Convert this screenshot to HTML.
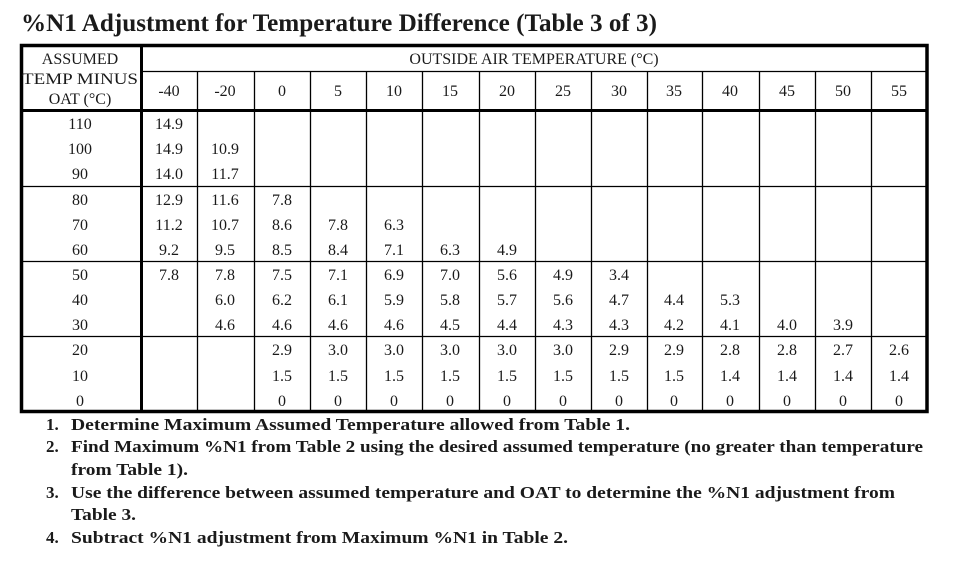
<!DOCTYPE html>
<html><head><meta charset="utf-8"><style>
html,body{margin:0;padding:0;background:#fff;}
svg{display:block;}
text{font-family:"Liberation Serif",serif;fill:#1a1a1a;}
.c{font-size:16px;text-anchor:middle;}
.b{font-weight:bold;font-size:17px;}
</style></head><body>
<svg width="955" height="572" viewBox="0 0 955 572" xmlns="http://www.w3.org/2000/svg">
<text x="21" y="31" textLength="636" lengthAdjust="spacingAndGlyphs" style="font-size:25px;font-weight:bold">%N1 Adjustment for Temperature Difference (Table 3 of 3)</text>
<g stroke="#000" fill="none">
<g stroke-width="1.3">
<line x1="141" y1="71.5" x2="927" y2="71.5"/>
<line x1="21" y1="186.5" x2="927" y2="186.5"/>
<line x1="21" y1="261.5" x2="927" y2="261.5"/>
<line x1="21" y1="336.5" x2="927" y2="336.5"/>
<line x1="197.5" y1="71" x2="197.5" y2="411"/>
<line x1="254.5" y1="71" x2="254.5" y2="411"/>
<line x1="310.5" y1="71" x2="310.5" y2="411"/>
<line x1="366.5" y1="71" x2="366.5" y2="411"/>
<line x1="422.5" y1="71" x2="422.5" y2="411"/>
<line x1="479.5" y1="71" x2="479.5" y2="411"/>
<line x1="535.5" y1="71" x2="535.5" y2="411"/>
<line x1="591.5" y1="71" x2="591.5" y2="411"/>
<line x1="647.5" y1="71" x2="647.5" y2="411"/>
<line x1="702.5" y1="71" x2="702.5" y2="411"/>
<line x1="759.5" y1="71" x2="759.5" y2="411"/>
<line x1="815.5" y1="71" x2="815.5" y2="411"/>
<line x1="871.5" y1="71" x2="871.5" y2="411"/>
</g>
<line x1="21" y1="110.5" x2="927" y2="110.5" stroke-width="3"/>
<line x1="141.5" y1="45" x2="141.5" y2="411" stroke-width="3"/>
<rect x="21.5" y="45.5" width="905.5" height="366" stroke-width="3.5"/>
</g>
<g class="c">
<text x="80" y="64">ASSUMED</text>
<text x="80" y="84" textLength="116" lengthAdjust="spacingAndGlyphs">TEMP MINUS</text>
<text x="80" y="104">OAT (°C)</text>
<text x="534" y="64">OUTSIDE AIR TEMPERATURE (°C)</text>
<text x="169" y="96">-40</text><text x="225" y="96">-20</text><text x="282" y="96">0</text><text x="338" y="96">5</text><text x="394" y="96">10</text><text x="450" y="96">15</text><text x="507" y="96">20</text><text x="563" y="96">25</text><text x="619" y="96">30</text><text x="674" y="96">35</text><text x="730" y="96">40</text><text x="787" y="96">45</text><text x="843" y="96">50</text><text x="899" y="96">55</text>

<text x="80" y="129">110</text><text x="169" y="129">14.9</text>
<text x="80" y="154">100</text><text x="169" y="154">14.9</text><text x="225" y="154">10.9</text>
<text x="80" y="179">90</text><text x="169" y="179">14.0</text><text x="225" y="179">11.7</text>

<text x="80" y="205">80</text><text x="169" y="205">12.9</text><text x="225" y="205">11.6</text><text x="282" y="205">7.8</text>
<text x="80" y="230">70</text><text x="169" y="230">11.2</text><text x="225" y="230">10.7</text><text x="282" y="230">8.6</text><text x="338" y="230">7.8</text><text x="394" y="230">6.3</text>
<text x="80" y="255">60</text><text x="169" y="255">9.2</text><text x="225" y="255">9.5</text><text x="282" y="255">8.5</text><text x="338" y="255">8.4</text><text x="394" y="255">7.1</text><text x="450" y="255">6.3</text><text x="507" y="255">4.9</text>

<text x="80" y="280">50</text><text x="169" y="280">7.8</text><text x="225" y="280">7.8</text><text x="282" y="280">7.5</text><text x="338" y="280">7.1</text><text x="394" y="280">6.9</text><text x="450" y="280">7.0</text><text x="507" y="280">5.6</text><text x="563" y="280">4.9</text><text x="619" y="280">3.4</text>
<text x="80" y="305">40</text><text x="225" y="305">6.0</text><text x="282" y="305">6.2</text><text x="338" y="305">6.1</text><text x="394" y="305">5.9</text><text x="450" y="305">5.8</text><text x="507" y="305">5.7</text><text x="563" y="305">5.6</text><text x="619" y="305">4.7</text><text x="674" y="305">4.4</text><text x="730" y="305">5.3</text>
<text x="80" y="330">30</text><text x="225" y="330">4.6</text><text x="282" y="330">4.6</text><text x="338" y="330">4.6</text><text x="394" y="330">4.6</text><text x="450" y="330">4.5</text><text x="507" y="330">4.4</text><text x="563" y="330">4.3</text><text x="619" y="330">4.3</text><text x="674" y="330">4.2</text><text x="730" y="330">4.1</text><text x="787" y="330">4.0</text><text x="843" y="330">3.9</text>

<text x="80" y="355">20</text><text x="282" y="355">2.9</text><text x="338" y="355">3.0</text><text x="394" y="355">3.0</text><text x="450" y="355">3.0</text><text x="507" y="355">3.0</text><text x="563" y="355">3.0</text><text x="619" y="355">2.9</text><text x="674" y="355">2.9</text><text x="730" y="355">2.8</text><text x="787" y="355">2.8</text><text x="843" y="355">2.7</text><text x="899" y="355">2.6</text>
<text x="80" y="381">10</text><text x="282" y="381">1.5</text><text x="338" y="381">1.5</text><text x="394" y="381">1.5</text><text x="450" y="381">1.5</text><text x="507" y="381">1.5</text><text x="563" y="381">1.5</text><text x="619" y="381">1.5</text><text x="674" y="381">1.5</text><text x="730" y="381">1.4</text><text x="787" y="381">1.4</text><text x="843" y="381">1.4</text><text x="899" y="381">1.4</text>
<text x="80" y="406">0</text><text x="282" y="406">0</text><text x="338" y="406">0</text><text x="394" y="406">0</text><text x="450" y="406">0</text><text x="507" y="406">0</text><text x="563" y="406">0</text><text x="619" y="406">0</text><text x="674" y="406">0</text><text x="730" y="406">0</text><text x="787" y="406">0</text><text x="843" y="406">0</text><text x="899" y="406">0</text>
</g>
<g class="b">
<text x="46" y="430">1.</text><text x="71" y="430" textLength="559" lengthAdjust="spacingAndGlyphs">Determine Maximum Assumed Temperature allowed from Table 1.</text>
<text x="46" y="452">2.</text><text x="71" y="452" textLength="852" lengthAdjust="spacingAndGlyphs">Find Maximum %N1 from Table 2 using the desired assumed temperature (no greater than temperature</text>
<text x="71" y="475" textLength="117" lengthAdjust="spacingAndGlyphs">from Table 1).</text>
<text x="46" y="498">3.</text><text x="71" y="498" textLength="824" lengthAdjust="spacingAndGlyphs">Use the difference between assumed temperature and OAT to determine the %N1 adjustment from</text>
<text x="71" y="520" textLength="65" lengthAdjust="spacingAndGlyphs">Table 3.</text>
<text x="46" y="543">4.</text><text x="71" y="543" textLength="497" lengthAdjust="spacingAndGlyphs">Subtract %N1 adjustment from Maximum %N1 in Table 2.</text>
</g>
</svg>
</body></html>
